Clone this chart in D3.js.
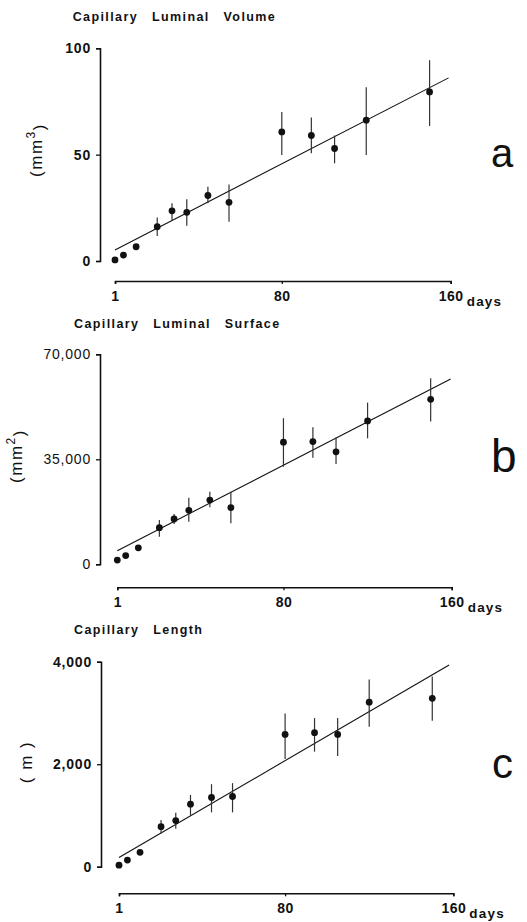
<!DOCTYPE html>
<html>
<head>
<meta charset="utf-8">
<script src="https://cdn.jsdelivr.net/npm/d3@7/dist/d3.min.js"></script>
<style>
  html, body { margin: 0; padding: 0; background: #fff; }
  svg { display: block; }
  text { font-family: "Liberation Sans", Arial, Helvetica, sans-serif; fill: #111; }
</style>
</head>
<body>
<svg id="chart" width="527" height="922"></svg>
<script>
// ---- data ----
const days = [1, 5, 11, 21, 28, 35, 45, 55, 80, 94, 105, 120, 150];
const xTicks = [1, 80, 160];

const volumeValues = [0.5, 2.8, 6.7, 16.1, 23.6, 22.9, 30.8, 27.6, 60.7, 59.0, 52.9, 66.2, 79.5];
const volumeUpper  = [null, null, null, 20.5, 27.1, 29.0, 34.9, 36.0, 70.1, 67.5, 59.0, 81.7, 94.4];
const volumeLower  = [null, null, null, 11.7, 18.9, 16.6, 27.1, 18.5, 49.8, 50.6, 45.9, 49.8, 63.5];
const volumeFit    = [[1, 5.2], [159, 86.1]];
const volumeTicks  = [0, 50, 100];

const surfaceValues = [1400, 2900, 5500, 12200, 15100, 18000, 21400, 18900, 40700, 40900, 37500, 47800, 55000];
const surfaceUpper  = [null, null, null, 14800, 16800, 22200, 24200, 24200, 48700, 45700, 42300, 53900, 62000];
const surfaceLower  = [null, null, null, 9200, 13400, 14200, 19000, 13700, 32500, 35500, 33400, 42000, 47600];
const surfaceFit    = [[1, 4500], [159.5, 61800]];
const surfaceTicks  = [0, 35000, 70000];

const lengthValues = [30, 130, 280, 780, 900, 1220, 1350, 1370, 2580, 2615, 2580, 3210, 3285];
const lengthUpper  = [null, null, null, 910, 1055, 1400, 1610, 1630, 2990, 2900, 2900, 3655, 3710];
const lengthLower  = [null, null, null, 650, 740, 1010, 1060, 1060, 2100, 2245, 2160, 2730, 2850];
const lengthFit    = [[1, 180], [158, 3935]];
const lengthTicks  = [0, 2000, 4000];

const titles = ["Capillary Luminal Volume", "Capillary Luminal Surface", "Capillary Length"];
const unitBase = ["(mm", "(mm", "( m )"];
const unitSup = ["3", "2", ""];
const letters = ["a", "b", "c"];

// ---- layout ----
const panels = [
  { values: volumeValues, upper: volumeUpper, lower: volumeLower, fit: volumeFit, ticks: volumeTicks, yMax: 100,
    xL: 115, xR: 450.7, yAxisX: 100, y0: 261, yTop: 48.3, xAxisY: 281,
    titleX: 72.7, titleY: 21, unitX: 36, unitY: 150, letterX: 491, letterY: 167, letterSize: 40,
    tickWeight: "bold" },
  { values: surfaceValues, upper: surfaceUpper, lower: surfaceLower, fit: surfaceFit, ticks: surfaceTicks, yMax: 70000,
    xL: 117.3, xR: 451.7, yAxisX: 100, y0: 564.3, yTop: 354.3, xAxisY: 587.3,
    titleX: 74, titleY: 328, unitX: 16, unitY: 456, letterX: 491, letterY: 472, letterSize: 46,
    tickWeight: "normal" },
  { values: lengthValues, upper: lengthUpper, lower: lengthLower, fit: lengthFit, ticks: lengthTicks, yMax: 4000,
    xL: 119, xR: 453.3, yAxisX: 101, y0: 866.7, yTop: 661.7, xAxisY: 893.3,
    titleX: 74, titleY: 634, unitX: 26, unitY: 762, letterX: 492, letterY: 778, letterSize: 42,
    tickWeight: "bold" }
];

const svg = d3.select("#chart");
svg.append("rect").attr("width", 527).attr("height", 922).attr("fill", "#fff");

const fmt = d3.format(",");

panels.forEach((p, i) => {
  const g = svg.append("g");
  const x = d3.scaleLinear().domain([1, 160]).range([p.xL, p.xR]);
  const y = d3.scaleLinear().domain([0, p.yMax]).range([p.y0, p.yTop]);

  // title
  g.append("text")
    .attr("x", p.titleX).attr("y", p.titleY)
    .attr("font-size", 12.5).attr("font-weight", "bold")
    .attr("letter-spacing", "1.4px").attr("word-spacing", "9px")
    .text(titles[i]);

  // y axis
  const yAx = g.append("g").attr("transform", `translate(${p.yAxisX},0)`)
    .call(d3.axisLeft(y).tickValues(p.ticks).tickSize(4).tickPadding(5).tickFormat(fmt));
  yAx.select(".domain").attr("stroke", "#111").attr("stroke-width", 1.6);
  yAx.selectAll(".tick line").attr("stroke", "#111").attr("stroke-width", 1.3);
  yAx.selectAll(".tick text").attr("font-size", 14).attr("font-weight", p.tickWeight)
    .attr("letter-spacing", "0.8px")
    .attr("fill", "#111").attr("font-family", "'Liberation Sans', Arial, sans-serif");

  // x axis
  const xAx = g.append("g").attr("transform", `translate(0,${p.xAxisY})`)
    .call(d3.axisBottom(x).tickValues(xTicks).tickSize(3).tickPadding(7));
  xAx.select(".domain").attr("stroke", "#111").attr("stroke-width", 1.6);
  xAx.selectAll(".tick line").attr("stroke", "#111").attr("stroke-width", 1.3);
  xAx.selectAll(".tick text").attr("font-size", 14).attr("font-weight", "bold")
    .attr("letter-spacing", "0.5px")
    .attr("fill", "#111").attr("font-family", "'Liberation Sans', Arial, sans-serif");

  g.append("text")
    .attr("x", x(160) + 16).attr("y", p.xAxisY + 25)
    .attr("font-size", 13.5).attr("font-weight", "bold").attr("letter-spacing", "1.2px")
    .text("days");

  // unit label
  const ut = g.append("text")
    .attr("transform", `translate(${p.unitX},${p.unitY}) rotate(-90)`)
    .attr("text-anchor", "middle").attr("dy", "0.35em")
    .attr("font-size", 17).attr("letter-spacing", "1.5px");
  ut.append("tspan").text(unitBase[i]);
  if (unitSup[i]) {
    ut.append("tspan").attr("font-size", 12).attr("dy", "-0.55em").text(unitSup[i]);
    ut.append("tspan").attr("dy", "0.55em").text(")");
  }

  // panel letter
  g.append("text")
    .attr("x", p.letterX).attr("y", p.letterY)
    .attr("font-size", p.letterSize)
    .text(letters[i]);

  // fit line
  g.append("line")
    .attr("x1", x(p.fit[0][0])).attr("y1", y(p.fit[0][1]))
    .attr("x2", x(p.fit[1][0])).attr("y2", y(p.fit[1][1]))
    .attr("stroke", "#111").attr("stroke-width", 1.1);

  const rows = days.map((d, k) => ({ d, v: p.values[k], hi: p.upper[k], lo: p.lower[k] }));

  // error bars
  g.selectAll(".err").data(rows.filter(r => r.hi !== null))
    .join("line")
    .attr("x1", r => x(r.d)).attr("x2", r => x(r.d))
    .attr("y1", r => y(r.hi)).attr("y2", r => y(r.lo))
    .attr("stroke", "#333").attr("stroke-width", 1.2);

  // points
  g.selectAll(".pt").data(rows)
    .join("circle")
    .attr("cx", r => x(r.d)).attr("cy", r => y(r.v))
    .attr("r", 3.4).attr("fill", "#111");
});
</script>
</body>
</html>
